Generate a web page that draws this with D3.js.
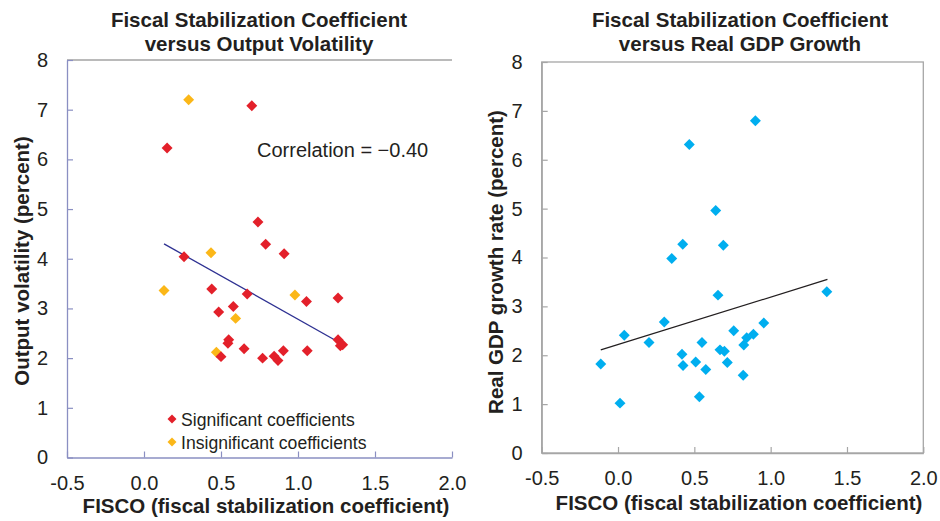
<!DOCTYPE html>
<html>
<head>
<meta charset="utf-8">
<script src="https://cdn.jsdelivr.net/npm/d3@7"></script>
<style>
  body { margin: 0; background: #fff; }
  svg { display: block; font-family: "Liberation Sans", Arial, sans-serif; }
</style>
</head>
<body>
<svg id="chart" width="940" height="521"></svg>
<script>
// tick values shared by both panels
const xTicks = [-0.5, 0, 0.5, 1, 1.5, 2];
const yTicks = [0, 1, 2, 3, 4, 5, 6, 7, 8];

// left panel: FISCO vs output volatility
const sigX = [0.15, 0.70, 0.26, 0.44, 0.485, 0.58, 0.67, 0.55, 0.545, 0.50, 0.65, 0.77,
  0.845, 0.87, 0.905, 1.06, 1.055, 1.26, 1.26, 1.275, 1.29, 0.79, 0.91, 0.74];
const sigY = [6.23, 7.08, 4.04, 3.39, 2.93, 3.04, 3.29, 2.37, 2.30, 2.03, 2.19, 2.00,
  2.04, 1.95, 2.15, 2.15, 3.14, 3.21, 2.37, 2.25, 2.27, 4.29, 4.10, 4.74];
const insigX = [0.29, 0.435, 0.13, 0.595, 0.47, 0.98];
const insigY = [7.20, 4.12, 3.36, 2.80, 2.12, 3.27];
const volTrendX = [0.13, 1.30];
const volTrendY = [4.30, 2.26];

// right panel: FISCO vs real GDP growth
const growthX = [0.90, 0.467, 0.64, 0.424, 0.69, 0.352, 0.655, 0.303, 0.041, 0.203,
  0.758, 0.887, 0.843, 0.824, 0.55, 0.668, 0.697, 0.419, 0.509, 0.716, 0.426, 0.575,
  -0.113, 0.82, 0.533, 0.013, 0.955, 1.368];
const growthY = [6.80, 6.31, 4.96, 4.27, 4.25, 3.98, 3.23, 2.68, 2.41, 2.26,
  2.50, 2.43, 2.36, 2.21, 2.26, 2.11, 2.08, 2.02, 1.86, 1.85, 1.79, 1.71,
  1.82, 1.59, 1.15, 1.02, 2.66, 3.30];
const growthTrendX = [-0.113, 1.372];
const growthTrendY = [2.11, 3.55];

const svg = d3.select('#chart');
const textColor = '#231f20';
const diamond = (size) => d3.symbol(d3.symbolSquare, size);

function drawPanel(p) {
  const x = d3.scaleLinear().domain([-0.5, 2]).range([p.left, p.right]);
  const y = d3.scaleLinear().domain([0, 8]).range([p.bottom, p.top]);
  const g = svg.append('g');

  // frame
  if (p.box) {
    g.append('rect')
      .attr('x', p.left).attr('y', p.top)
      .attr('width', p.right - p.left).attr('height', p.bottom - p.top)
      .attr('fill', 'none').attr('stroke', p.frameColor).attr('stroke-width', 1.3);
  } else {
    g.append('line')
      .attr('x1', p.left).attr('x2', p.right).attr('y1', p.top).attr('y2', p.top)
      .attr('stroke', p.frameColor).attr('stroke-width', 1.3);
  }

  // axes
  const xAxis = g.append('g')
    .attr('transform', `translate(0,${p.bottom})`)
    .call(d3.axisBottom(x).tickValues(xTicks).tickSizeInner(-6).tickSizeOuter(0)
      .tickPadding(18).tickFormat(d => d.toFixed(1)));
  const yAxis = g.append('g')
    .attr('transform', `translate(${p.left},0)`)
    .call(d3.axisLeft(y).tickValues(yTicks).tickSizeInner(-6).tickSizeOuter(0)
      .tickPadding(19).tickFormat(d3.format('d')));
  [xAxis, yAxis].forEach(a => {
    a.select('.domain').attr('stroke', p.axisColor).attr('stroke-width', 1.3);
    a.selectAll('.tick line').attr('stroke', p.axisColor).attr('stroke-width', 1.2);
    a.selectAll('.tick text').attr('fill', textColor)
      .style('font-size', '20px').style('font-family', '"Liberation Sans", Arial, sans-serif');
  });

  // trend line
  g.append('path')
    .datum(d3.zip(p.trendX, p.trendY))
    .attr('fill', 'none')
    .attr('stroke', p.trendColor)
    .attr('stroke-width', 1.3)
    .attr('d', d3.line().x(d => x(d[0])).y(d => y(d[1])));

  // points
  p.series.forEach(s => {
    g.append('g').selectAll('path')
      .data(d3.zip(s.xs, s.ys))
      .enter()
      .append('path')
      .attr('d', diamond(60))
      .attr('transform', d => `translate(${x(d[0])},${y(d[1])}) rotate(45)`)
      .attr('fill', s.color);
  });

  // titles
  const title = g.append('text')
    .attr('text-anchor', 'middle')
    .attr('fill', textColor)
    .style('font-size', '20.5px').style('font-weight', 'bold');
  title.append('tspan').attr('x', p.titleX).attr('y', 27).text(p.title[0]);
  title.append('tspan').attr('x', p.titleX).attr('y', 51).text(p.title[1]);

  g.append('text')
    .attr('x', p.xTitleX).attr('y', p.xTitleY)
    .attr('text-anchor', 'middle')
    .attr('fill', textColor)
    .style('font-size', '20.5px').style('font-weight', 'bold')
    .text('FISCO (fiscal stabilization coefficient)');

  g.append('text')
    .attr('transform', `translate(${p.yTitleX},${p.yTitleY}) rotate(-90)`)
    .attr('text-anchor', 'middle')
    .attr('fill', textColor)
    .style('font-size', '20.5px').style('font-weight', 'bold')
    .text(p.yTitle);

  return { g, x, y };
}

// left panel
const red = '#e3202a';
const yellow = '#fbb718';
const left = drawPanel({
  left: 67, right: 452, top: 60, bottom: 457.5,
  box: false, frameColor: '#a3a3a3', axisColor: '#8a8fc2',
  trendX: volTrendX, trendY: volTrendY, trendColor: '#2e3192',
  series: [{ xs: insigX, ys: insigY, color: yellow }, { xs: sigX, ys: sigY, color: red }],
  title: ['Fiscal Stabilization Coefficient', 'versus Output Volatility'],
  titleX: 259, xTitleX: 266, xTitleY: 513,
  yTitle: 'Output volatility (percent)', yTitleX: 29, yTitleY: 261
});

left.g.append('text')
  .attr('x', 257).attr('y', 157)
  .attr('fill', textColor)
  .style('font-size', '20px')
  .text('Correlation = \u22120.40');

// legend
const legend = [{ label: 'Significant coefficients', color: red },
  { label: 'Insignificant coefficients', color: yellow }];
legend.forEach((l, i) => {
  const ly = 419 + i * 23;
  left.g.append('path')
    .attr('d', diamond(40))
    .attr('transform', `translate(172,${ly}) rotate(45)`)
    .attr('fill', l.color);
  left.g.append('text')
    .attr('x', 181).attr('y', ly + 6.5)
    .attr('fill', textColor)
    .style('font-size', '17.6px')
    .text(l.label);
});

// right panel
drawPanel({
  left: 541.7, right: 923.3, top: 62, bottom: 453,
  box: true, frameColor: '#a6a6a6', axisColor: '#a6a6a6',
  trendX: growthTrendX, trendY: growthTrendY, trendColor: '#231f20',
  series: [{ xs: growthX, ys: growthY, color: '#00aeef' }],
  title: ['Fiscal Stabilization Coefficient', 'versus Real GDP Growth'],
  titleX: 740, xTitleX: 739, xTitleY: 510,
  yTitle: 'Real GDP growth rate (percent)', yTitleX: 503, yTitleY: 262
});
</script>
</body>
</html>
